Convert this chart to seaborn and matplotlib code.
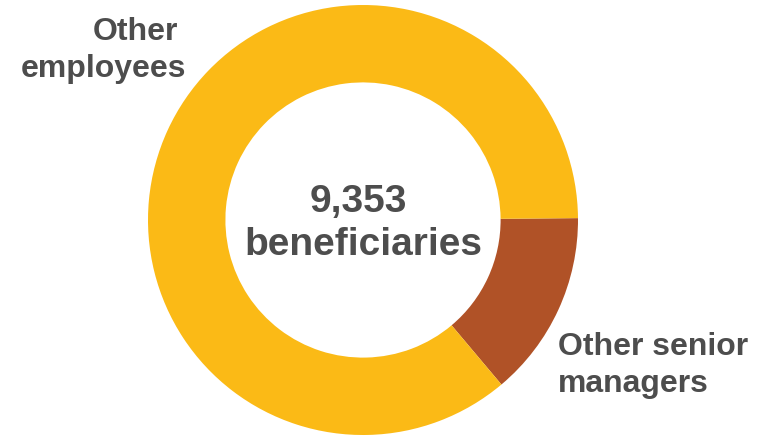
import matplotlib
matplotlib.use("Agg")
import matplotlib.pyplot as plt
import seaborn as sns

# Beneficiaries by population
categories = ["Other senior managers", "Other employees"]
counts = [1310, 8043]
total_label = "9,353"
total_caption = "beneficiaries"

sns.set_theme(style="white")
plt.rcParams["font.family"] = ["Liberation Sans", "DejaVu Sans"]

colors = ["#B05227", "#FBBA16"]
text_color = "#4D4D4D"

W, H = 762, 438
fig = plt.figure(figsize=(W / 100, H / 100), dpi=100)
ax = fig.add_axes([0, 0, 1, 1])

outer_r = 215
ax.pie(counts, colors=colors, radius=outer_r, center=(363, H - 220),
       startangle=0.5, counterclock=False, frame=True,
       wedgeprops=dict(width=outer_r * 0.36, linewidth=0))
ax.set_xlim(0, W)
ax.set_ylim(0, H)
ax.set_aspect("equal")
ax.axis("off")

kw = dict(color=text_color, fontweight="bold", va="baseline")
ax.text(358, H - 212, total_label, ha="center", fontsize=28, **kw)
ax.text(363, H - 255, total_caption, ha="center", fontsize=28, **kw)

ax.text(135, H - 40, "Other", ha="center", fontsize=23, **kw)
ax.text(104, H - 77, "employees", ha="center", fontsize=23, **kw)
ax.text(558, H - 355, "Other senior", ha="left", fontsize=23, **kw)
ax.text(558, H - 392, "managers", ha="left", fontsize=23, **kw)

fig.savefig("out.png", dpi=100, facecolor="white")
